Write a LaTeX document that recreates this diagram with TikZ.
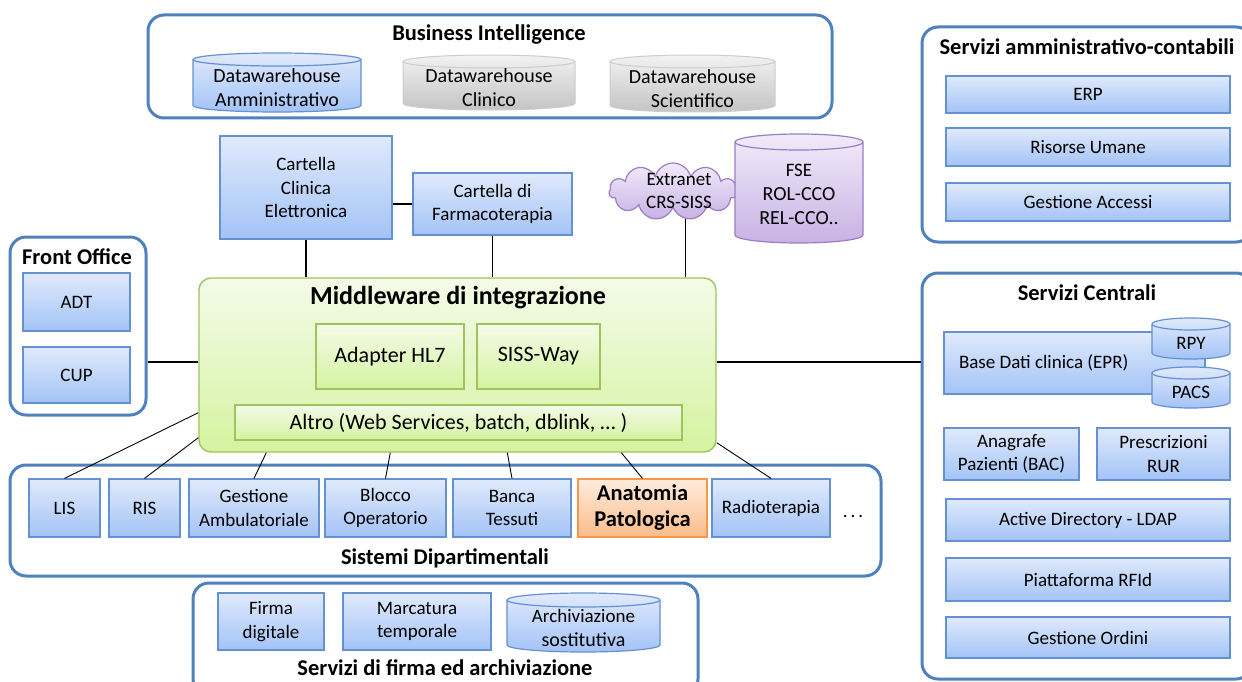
\documentclass[tikz,border=0pt]{standalone}
\usepackage{fontspec}
\setmainfont{Carlito}
\usetikzlibrary{shapes.symbols}

\definecolor{grpblue}{RGB}{79,129,189}
\definecolor{boxblue}{RGB}{100,145,210}
\definecolor{bluetop}{RGB}{224,234,252}
\definecolor{bluebot}{RGB}{163,195,246}
\definecolor{graylin}{RGB}{205,205,205}
\definecolor{graytop}{RGB}{242,242,242}
\definecolor{graybot}{RGB}{196,196,196}
\definecolor{purplin}{RGB}{155,125,195}
\definecolor{purptop}{RGB}{242,235,250}
\definecolor{purpbot}{RGB}{200,178,228}
\definecolor{greenlin}{RGB}{160,195,95}
\definecolor{greentop}{RGB}{244,251,232}
\definecolor{greenbot}{RGB}{212,243,160}
\definecolor{orangelin}{RGB}{247,150,70}
\definecolor{orangetop}{RGB}{254,236,222}
\definecolor{orangebot}{RGB}{250,188,138}

\newcommand{\bodyfont}{\fontsize{19}{23.5}\selectfont}
\newcommand{\dbfont}{\fontsize{20}{24}\selectfont}
\newcommand{\mwinfont}{\fontsize{22}{26}\selectfont}
\newcommand{\grpfont}{\fontsize{22.5}{27}\selectfont\bfseries}
\newcommand{\mwfont}{\fontsize{26}{31}\selectfont\bfseries}

% database cylinder: name, kind, cx, cy, rx, half height, ry, text
\newcommand{\dbCyl}[8]{%
  \path[#2 body] ({#3-#5},{#4-#6+#7}) -- ({#3-#5},{#4+#6-#7})
    arc[start angle=180,end angle=360,x radius=#5pt,y radius=#7pt]
    -- ({#3+#5},{#4-#6+#7})
    arc[start angle=0,end angle=180,x radius=#5pt,y radius=#7pt] -- cycle;
  \draw[#2 rim] ({#3-#5},{#4-#6+#7})
    arc[start angle=180,end angle=360,x radius=#5pt,y radius=#7pt];
  \node[font=\dbfont, align=center, inner sep=0pt] (#1) at (#3,{#4+0.8*#7}) {#8};}

\tikzset{
  cylblue body/.style={draw=boxblue, line width=1.2pt, top color=bluetop, bottom color=bluebot},
  cylblue rim/.style={draw=boxblue, line width=1.2pt},
  cylgray body/.style={draw=graylin, line width=1pt, top color=graytop, bottom color=graybot},
  cylgray rim/.style={draw=graylin, line width=1pt},
  cylpurple body/.style={draw=purplin, line width=1.2pt, top color=purptop, bottom color=purpbot},
  cylpurple rim/.style={draw=purplin, line width=1.2pt},
}

\begin{document}
\begin{tikzpicture}[x=1pt,y=-1pt,
  grp/.style={draw=grpblue, line width=3pt, rounded corners=16pt, fill=white},
  grptitle/.style={font=\grpfont, inner sep=0pt},
  bluebox/.style={draw=boxblue, line width=1.2pt, top color=bluetop, bottom color=bluebot,
    font=\bodyfont, align=center, inner sep=0pt},
  greenbox/.style={draw=greenlin, line width=1.2pt, top color=greentop, bottom color=greenbot,
    font=\mwinfont, align=center, inner sep=0pt},
  orangebox/.style={draw=orangelin, line width=1.2pt, top color=orangetop, bottom color=orangebot,
    font=\fontsize{22.5}{26}\selectfont\bfseries, align=center, inner sep=0pt},
  link/.style={line width=1.3pt},
  deptlink/.style={line width=0.9pt}]
\useasboundingbox (0,0) rectangle (1242,682);
\clip (0,0) rectangle (1242,682);

% Business Intelligence
\node[grp, minimum width=684pt, minimum height=103pt] (bi) at (490,66.5) {};
\node[grptitle] (biT) at (489,35) {Business Intelligence};
\dbCyl{dwA}{cylblue}{277}{82.5}{84}{29.5}{6.5}{Datawarehouse\\Amministrativo}
\dbCyl{dwC}{cylgray}{489}{82.5}{86}{27.5}{6.5}{Datawarehouse\\Clinico}
\dbCyl{dwS}{cylgray}{692.5}{83.5}{82.5}{28.5}{6.5}{Datawarehouse\\Scientifico}

% Servizi amministrativo-contabili
\node[grp, minimum width=330pt, minimum height=215pt] (sac) at (1087,134.5) {};
\node[grptitle] (sacT) at (1087,47) {Servizi amministrativo-contabili};
\node[bluebox, minimum width=284pt, minimum height=37pt] (erp) at (1088,94.5) {ERP};
\node[bluebox, minimum width=284pt, minimum height=38pt] (ru) at (1088,147) {Risorse Umane};
\node[bluebox, minimum width=284pt, minimum height=38pt] (ga) at (1088,202) {Gestione Accessi};

% Front Office
\node[grp, minimum width=136pt, minimum height=178pt] (fo) at (78,326) {};
\node[grptitle] (foT) at (77,257) {Front Office};
\node[bluebox, minimum width=107pt, minimum height=58pt] (adt) at (76.5,302) {ADT};
\node[bluebox, minimum width=107pt, minimum height=56pt] (cup) at (76.5,375) {CUP};

% Cartelle
\node[bluebox, minimum width=172pt, minimum height=103pt] (cce) at (306,187.5) {Cartella\\Clinica\\Elettronica};
\node[bluebox, minimum width=159pt, minimum height=62pt] (cdf) at (492.5,204) {Cartella di\\Farmacoterapia};

% Extranet e FSE
\node[cloud, cloud puffs=11, aspect=2.2, draw=purplin, line width=1.2pt, top color=purptop,
  bottom color=purpbot, minimum width=128pt, minimum height=57pt, inner sep=0pt] (ext) at (673,191.5) {};
\node[font=\bodyfont, align=center, inner sep=0pt] (extT) at (679,191) {Extranet\\CRS-SISS};
\dbCyl{fse}{cylpurple}{799}{188.5}{64}{54.5}{8}{\bodyfont FSE\\ROL-CCO\\REL-CCO..}

% Middleware
\node[draw=greenlin, line width=1.4pt, rounded corners=12pt, top color=greentop, bottom color=greenbot,
  minimum width=517pt, minimum height=174pt] (mw) at (457.5,365) {};
\node[font=\mwfont, inner sep=0pt] (mwT) at (458,298) {Middleware di integrazione};
\node[greenbox, minimum width=148pt, minimum height=65pt] (hl7) at (390,356.5) {Adapter HL7};
\node[greenbox, minimum width=123pt, minimum height=65pt] (siss) at (538.5,356.5) {SISS-Way};
\node[greenbox, minimum width=447pt, minimum height=35pt] (altro) at (458.5,422.5) {Altro (Web Services, batch, dblink, … )};

% Servizi Centrali
\node[grp, minimum width=330pt, minimum height=406pt] (sc) at (1087,476) {};
\node[grptitle] (scT) at (1087,293) {Servizi Centrali};
\node[bluebox, minimum width=261pt, minimum height=62pt, text width=231pt, align=flush left] (epr) at (1074.5,363) {Base Dati clinica (EPR)};
\dbCyl{rpy}{cylblue}{1191}{338.5}{39}{20.5}{6}{\bodyfont RPY}
\dbCyl{pacs}{cylblue}{1191}{387.5}{39}{20.5}{6}{\bodyfont PACS}
\node[bluebox, minimum width=135pt, minimum height=52pt] (bac) at (1011.5,454) {Anagrafe\\Pazienti (BAC)};
\node[bluebox, minimum width=133pt, minimum height=52pt] (rur) at (1163.5,454) {Prescrizioni\\RUR};
\node[bluebox, minimum width=284pt, minimum height=42pt] (ldap) at (1088,520) {Active Directory - LDAP};
\node[bluebox, minimum width=284pt, minimum height=43pt] (rfid) at (1088,579.5) {Piattaforma RFId};
\node[bluebox, minimum width=284pt, minimum height=41pt] (ord) at (1088,637.5) {Gestione Ordini};

% Sistemi Dipartimentali
\node[grp, minimum width=871pt, minimum height=111pt] (sd) at (445.5,520.5) {};
\node[grptitle] (sdT) at (445,558) {Sistemi Dipartimentali};
\node[bluebox, minimum width=71pt, minimum height=58pt] (lis) at (64.5,508) {LIS};
\node[bluebox, minimum width=71pt, minimum height=58pt] (ris) at (144.5,508) {RIS};
\node[bluebox, minimum width=130pt, minimum height=58pt] (amb) at (254,508) {Gestione\\Ambulatoriale};
\node[bluebox, minimum width=121pt, minimum height=58pt] (blo) at (385.5,508) {Blocco\\Operatorio};
\node[bluebox, minimum width=118pt, minimum height=58pt] (bt) at (512,508) {Banca\\Tessuti};
\node[orangebox, minimum width=129pt, minimum height=58pt] (ap) at (642.5,508) {Anatomia\\Patologica};
\node[bluebox, minimum width=118pt, minimum height=58pt] (rt) at (771,508) {Radioterapia};
\node[font=\bodyfont, inner sep=0pt] (more) at (853,516) {.\hspace{3pt}.\hspace{3pt}.};

% Servizi di firma ed archiviazione
\node[grp, minimum width=505pt, minimum height=112pt] (sf) at (445.5,639) {};
\node[grptitle] (sfT) at (445,668) {Servizi di firma ed archiviazione};
\node[bluebox, minimum width=106pt, minimum height=57pt] (firma) at (271,621.5) {Firma\\digitale};
\node[bluebox, minimum width=148pt, minimum height=57pt] (marca) at (417,621.5) {Marcatura\\temporale};
\dbCyl{arch}{cylblue}{583.5}{622.5}{76.5}{29.5}{7}{\bodyfont Archiviazione\\sostitutiva}

% collegamenti
\draw[link] (cdf.west) -- (cdf.west -| cce.east);
\draw[link] (cce.south) -- (cce.south |- mw.north);
\draw[link] (cdf.south) -- (cdf.south |- mw.north);
\draw[link] (ext.-66) -- (ext.-66 |- mw.north);
\draw[link] ([yshift=3pt]mw.west) -- ([yshift=3pt]mw.west -| fo.east);
\draw[link] ([yshift=3pt]mw.east) -- ([yshift=3pt]mw.east -| sc.west);
\draw[deptlink] (lis.north) -- ([yshift=40pt]mw.south west);
\draw[deptlink] (ris.north) -- ([yshift=15pt]mw.south west);
\draw[deptlink] (amb.north) -- ([xshift=68pt]mw.south west);
\draw[deptlink] (blo.north) -- ([xshift=192pt]mw.south west);
\draw[deptlink] (bt.north) -- ([xshift=309pt]mw.south west);
\draw[deptlink] (ap.north) -- ([xshift=423pt]mw.south west);
\draw[deptlink] (rt.north) -- ([yshift=10pt]mw.south east);
\end{tikzpicture}
\end{document}
